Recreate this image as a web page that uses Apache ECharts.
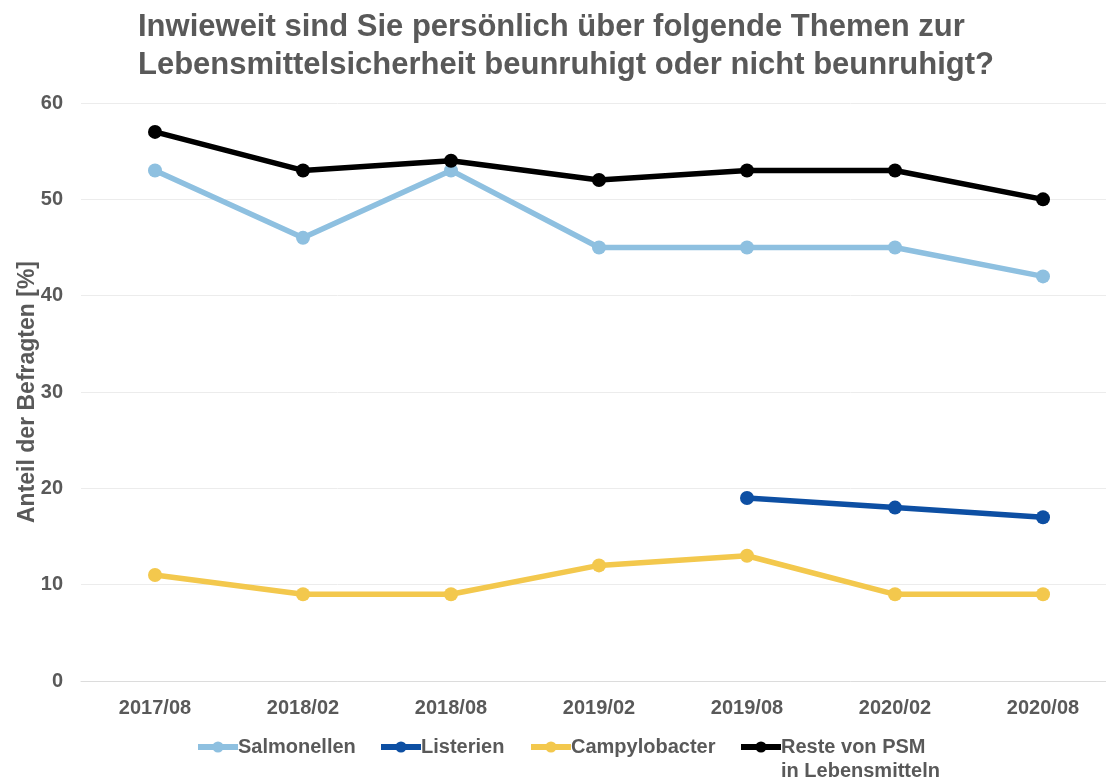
<!DOCTYPE html>
<html>
<head>
<meta charset="utf-8">
<script src="https://cdn.jsdelivr.net/npm/echarts@6/dist/echarts.min.js"></script>
<style>
  html, body { margin: 0; padding: 0; background: #fff; }
  #main { width: 1106px; height: 780px; }
</style>
</head>
<body>
<div id="main"></div>
<script>
// Befragungswellen
var waves = ['2017/08', '2018/02', '2018/08', '2019/02', '2019/08', '2020/02', '2020/08'];
var salmonellen = [53, 46, 53, 45, 45, 45, 42];
var listerien = [null, null, null, null, 19, 18, 17];
var campylobacter = [11, 9, 9, 12, 13, 9, 9];
var psm = [57, 53, 54, 52, 53, 53, 50];
var seriesNames = ['Salmonellen', 'Listerien', 'Campylobacter', 'Reste von PSM\nin Lebensmitteln'];

var gray = '#595959';
var font = '"Liberation Sans", Arial, sans-serif';

function line(name, data, color) {
    return {
        name: name,
        type: 'line',
        data: data,
        symbol: 'circle',
        symbolSize: 14,
        lineStyle: { width: 5.5, color: color },
        itemStyle: { color: color },
        emphasis: { disabled: true },
        animation: false
    };
}

// one legend block per entry so each sits where it does in the original
function legendAt(name, left, twoLines) {
    var txt = { color: gray, fontSize: 20, lineHeight: 24, fontWeight: 'bold', fontFamily: font };
    var lg = {
        left: left,
        top: twoLines ? 711 : 735,
        padding: 0,
        itemWidth: 40,
        itemHeight: 14,
        data: [name],
        lineStyle: { width: 6 },
        textStyle: Object.assign({ padding: [0, 0, 0, -5] }, txt)
    };
    if (twoLines) {
        // blank first line keeps "Reste von PSM" level with the icon
        lg.formatter = function (n) {
            var parts = n.split('\n');
            return '{p| }\n{t|' + parts[0] + '}\n{t|' + parts[1] + '}';
        };
        lg.textStyle.rich = { p: txt, t: txt };
    }
    return lg;
}

var myChart = echarts.init(document.getElementById('main'));
myChart.setOption({
    title: {
        text: 'Inwieweit sind Sie persönlich über folgende Themen zur\nLebensmittelsicherheit beunruhigt oder nicht beunruhigt?',
        left: 138,
        top: 8,
        padding: 0,
        textStyle: {
            color: gray,
            fontSize: 31,
            fontWeight: 'bold',
            fontFamily: font,
            lineHeight: 38
        }
    },
    legend: [
        legendAt(seriesNames[0], 195, false),
        legendAt(seriesNames[1], 378, false),
        legendAt(seriesNames[2], 528, false),
        legendAt(seriesNames[3], 738, true)
    ],
    grid: {
        left: 81,
        width: 1036,
        top: 103,
        bottom: 99,
        containLabel: false,
        outerBoundsMode: 'none'
    },
    xAxis: {
        type: 'category',
        data: waves,
        boundaryGap: true,
        axisLine: { lineStyle: { color: '#dcdcdc', width: 1 } },
        axisTick: { show: false },
        axisLabel: {
            color: gray,
            fontSize: 20,
            fontWeight: 'bold',
            fontFamily: font,
            margin: 17
        }
    },
    yAxis: {
        type: 'value',
        min: 0,
        max: 60,
        interval: 10,
        name: 'Anteil der Befragten [%]',
        nameLocation: 'middle',
        nameGap: 42,
        nameMoveOverlap: false,
        nameTextStyle: {
            color: gray,
            fontSize: 23,
            fontWeight: 'bold',
            fontFamily: font
        },
        axisLine: { show: false },
        axisTick: { show: false },
        splitLine: { lineStyle: { color: '#ececec', width: 1 } },
        axisLabel: {
            color: gray,
            fontSize: 20,
            fontWeight: 'bold',
            fontFamily: font,
            margin: 18
        }
    },
    series: [
        line(seriesNames[0], salmonellen, '#8ec0e0'),
        line(seriesNames[1], listerien, '#0d4fa3'),
        line(seriesNames[2], campylobacter, '#f3c84d'),
        line(seriesNames[3], psm, '#000000')
    ]
});
</script>
</body>
</html>
